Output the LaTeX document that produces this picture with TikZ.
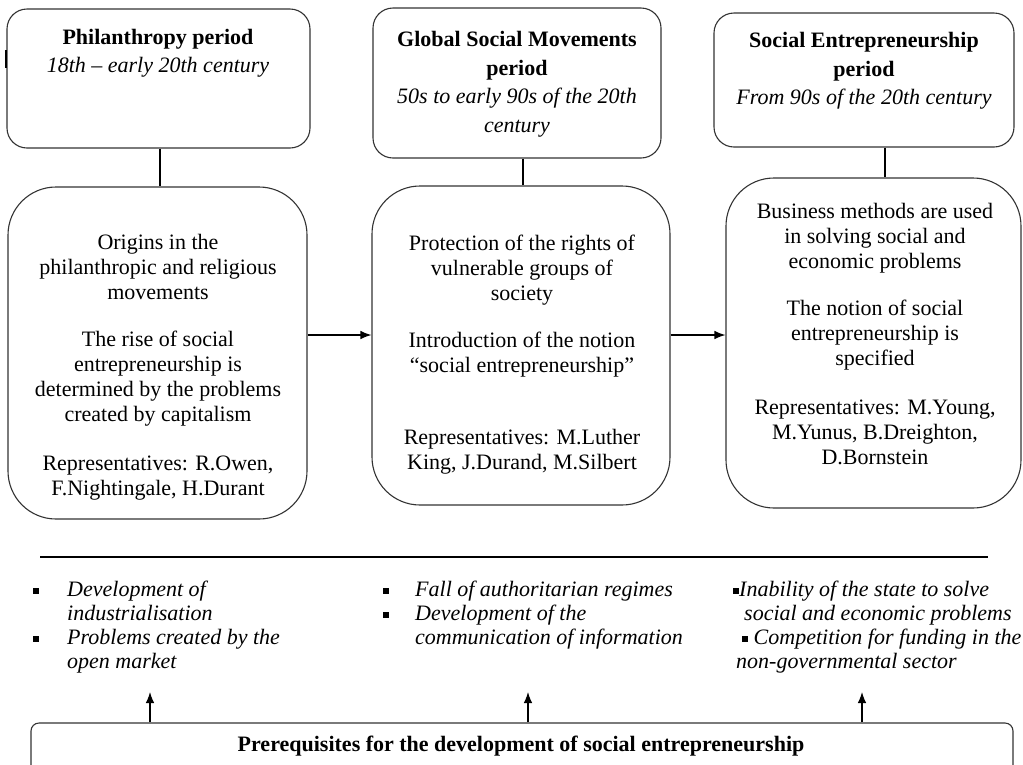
\documentclass[tikz,border=0pt]{standalone}
\usepackage{fontspec}
\setmainfont{Liberation Serif}
\usetikzlibrary{arrows.meta}
\newcommand{\sqbul}{\raisebox{2.5pt}{\rule{6pt}{6pt}}}
\begin{document}
\begin{tikzpicture}[x=1pt,y=-1pt,
  box/.style={draw=black!80, line width=1.1pt, fill=white},
  topbox/.style={box, rounded corners=20pt},
  midbox/.style={box, rounded corners=48pt},
  botbox/.style={box, rounded corners=8pt},
  body/.style={align=center, inner sep=0pt, font=\fontsize{22}{25}\selectfont},
  head/.style={align=center, inner sep=0pt, font=\fontsize{22}{28.5}\selectfont},
  lst/.style={inner sep=0pt, anchor=base west, font=\fontsize{22}{24}\selectfont\itshape},
  conn/.style={draw=black, line width=1.1pt},
  arr/.style={conn, -{Latex[length=11pt,width=8.5pt]}},
]
\useasboundingbox (0,0) rectangle (1023,764);

% top boxes
\node[topbox, minimum width=303pt, minimum height=139pt] (t1) at (158.5,78.5) {};
\node[topbox, minimum width=288pt, minimum height=150pt] (t2) at (517,83) {};
\node[topbox, minimum width=300pt, minimum height=134pt] (t3) at (864,80) {};
\draw[line width=2pt] (6,50) -- (6,68);

\node[head] (h1) at (158,53) {\textbf{Philanthropy period}\\ \textit{18th – early 20th century}};
\node[head] (h2) at (517,84) {\textbf{Global Social Movements}\\ \textbf{period}\\ \textit{50s to early 90s of the 20th}\\ \textit{century}};
\node[head] (h3) at (864,71) {\textbf{Social Entrepreneurship}\\ \textbf{period}\\ \textit{From 90s of the 20th century}};

% middle boxes
\node[midbox, minimum width=299pt, minimum height=332pt] (m1) at (157.5,353) {};
\node[midbox, minimum width=298pt, minimum height=319pt] (m2) at (521,345.5) {};
\node[midbox, minimum width=295pt, minimum height=330pt] (m3) at (873.5,343) {};

\node[body] (b1) at (158,367.5) {Origins in the\\ philanthropic and religious\\ movements\\[22pt]
The rise of social\\ entrepreneurship is\\ determined by the problems\\ created by capitalism\\[24pt]
Representatives: R.Owen,\\ F.Nightingale, H.Durant};
\node[body] (b2) at (522,354.5) {Protection of the rights of\\ vulnerable groups of\\ society\\[22pt]
Introduction of the notion\\ “social entrepreneurship”\\[47pt]
Representatives: M.Luther\\ King, J.Durand, M.Silbert};
\node[body] (b3) at (875,334.5) {Business methods are used\\ in solving social and\\ economic problems\\[22pt]
The notion of social\\ entrepreneurship is\\ specified\\[24pt]
Representatives: M.Young,\\ M.Yunus, B.Dreighton,\\ D.Bornstein};

% connectors
\draw[conn] (160,0 |- t1.south) -- (160,0 |- m1.north);
\draw[conn] (523,0 |- t2.south) -- (523,0 |- m2.north);
\draw[conn] (885,0 |- t3.south) -- (885,0 |- m3.north);
\draw[arr] (m1.east |- 0,335) -- (m2.west |- 0,335);
\draw[arr] (m2.east |- 0,335) -- (m3.west |- 0,335);

% separator
\coordinate (s1) at (40,557);
\coordinate (s2) at (988,557);
\draw[conn] (s1) -- (s2);

% lists
\node[lst] (l1) at (33,596) {\begin{tabular}[t]{@{}p{34pt}@{}l@{}}
\sqbul & Development of\\ & industrialisation\\ \sqbul & Problems created by the\\ & open market\end{tabular}};
\node[lst] (l2) at (383,596) {\begin{tabular}[t]{@{}p{32pt}@{}l@{}}
\sqbul & Fall of authoritarian regimes\\ \sqbul & Development of the\\ & communication of information\end{tabular}};
\node[lst] (l3) at (733,596) {\begin{tabular}[t]{@{}l@{}}
\sqbul Inability of the state to solve\\ \hspace{11pt}social and economic problems\\ \hspace{9pt}\sqbul\ Competition for funding in the\\ \hspace{3pt}non-governmental sector\end{tabular}};

% bottom box
\node[botbox, minimum width=982pt, minimum height=67pt] (bb) at (522,756.5) {};
\node[inner sep=0pt, font=\fontsize{22}{25}\selectfont\bfseries] (bt) at (521,746) {Prerequisites for the development of social entrepreneurship};

\coordinate (u1) at (150,692);
\coordinate (u2) at (528,692);
\coordinate (u3) at (862,692);
\draw[arr] (150,0 |- bb.north) -- (u1);
\draw[arr] (528,0 |- bb.north) -- (u2);
\draw[arr] (862,0 |- bb.north) -- (u3);
\end{tikzpicture}
\end{document}
